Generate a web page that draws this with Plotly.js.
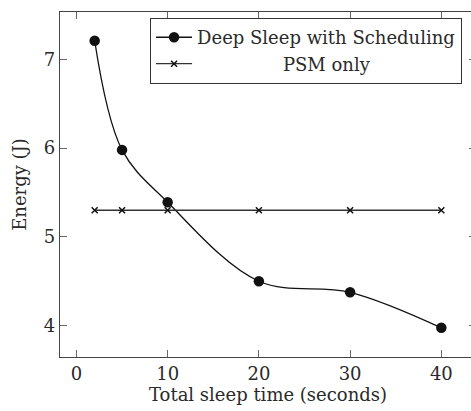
<!DOCTYPE html>
<html><head><meta charset="utf-8">
<script src="https://cdn.plot.ly/plotly-3.0.1.min.js"></script>
<style>html,body{margin:0;padding:0;overflow:hidden;background:#fff;}#chart{width:477px;height:411px;}</style>
</head><body><div id="chart"></div>
<script>
const sleepTimes = [2, 5, 10, 20, 30, 40];
const deepSleepEnergy = [7.21, 5.98, 5.39, 4.50, 4.375, 3.975];
const psmEnergy = [5.30, 5.30, 5.30, 5.30, 5.30, 5.30];
const seriesNames = ['Deep Sleep with Scheduling', 'PSM only'];
const xTicks = [0, 10, 20, 30, 40];
const yTicks = [4, 5, 6, 7];
const xRange = [-1.8, 43.8];
const yRange = [3.646, 7.534];

const font = {family: 'DejaVu Serif', size: 18, color: '#2a2a2a'};
const pad = '\u00a0'.repeat(15);
const tickStyle = {ticks: 'inside', ticklen: 7, tickcolor: '#666', tickwidth: 1.2};
const traces = [
  {x: sleepTimes, y: deepSleepEnergy, name: seriesNames[0], type: 'scatter', mode: 'lines+markers',
   line: {color: '#111', width: 1.3, shape: 'spline', smoothing: 1},
   marker: {symbol: 'circle', size: 10.5, color: '#111'}},
  {x: sleepTimes, y: psmEnergy, name: pad + seriesNames[1], type: 'scatter', mode: 'lines+markers',
   line: {color: '#333', width: 1.3},
   marker: {symbol: 'x-thin', size: 6, color: '#111', line: {width: 1.5, color: '#111'}}},
  {x: sleepTimes, y: psmEnergy, xaxis: 'x2', yaxis: 'y2', type: 'scatter', mode: 'markers',
   marker: {opacity: 0}, showlegend: false, hoverinfo: 'skip'}
];
const axisCommon = Object.assign({showgrid: false, zeroline: false, showline: true, linecolor: '#444', linewidth: 1.2,
  mirror: true, tickfont: font}, tickStyle);
const overlayCommon = Object.assign({showticklabels: false, showgrid: false, zeroline: false, showline: false}, tickStyle);
const layout = {
  width: 477, height: 411,
  margin: {l: 60, r: 1, t: 12, b: 54},
  paper_bgcolor: '#fff', plot_bgcolor: '#fff',
  font: font,
  showlegend: true,
  legend: {x: 0.216, y: 0.983, xanchor: 'left', yanchor: 'top', bgcolor: '#fff',
    bordercolor: '#333', borderwidth: 1.2, font: font, tracegroupgap: 0, itemwidth: 36},
  xaxis: Object.assign({}, axisCommon, {range: xRange, tickvals: xTicks,
    title: {text: 'Total sleep time (seconds)', font: font, standoff: 0}}),
  yaxis: Object.assign({}, axisCommon, {range: yRange, tickvals: yTicks,
    title: {text: 'Energy (J)', font: font, standoff: 12}}),
  xaxis2: Object.assign({}, overlayCommon, {overlaying: 'x', side: 'top', anchor: 'y2', range: xRange, tickvals: xTicks}),
  yaxis2: Object.assign({}, overlayCommon, {overlaying: 'y', side: 'right', anchor: 'x2', range: yRange, tickvals: yTicks})
};
Plotly.newPlot('chart', traces, layout, {displayModeBar: false, staticPlot: true});
</script></body></html>
